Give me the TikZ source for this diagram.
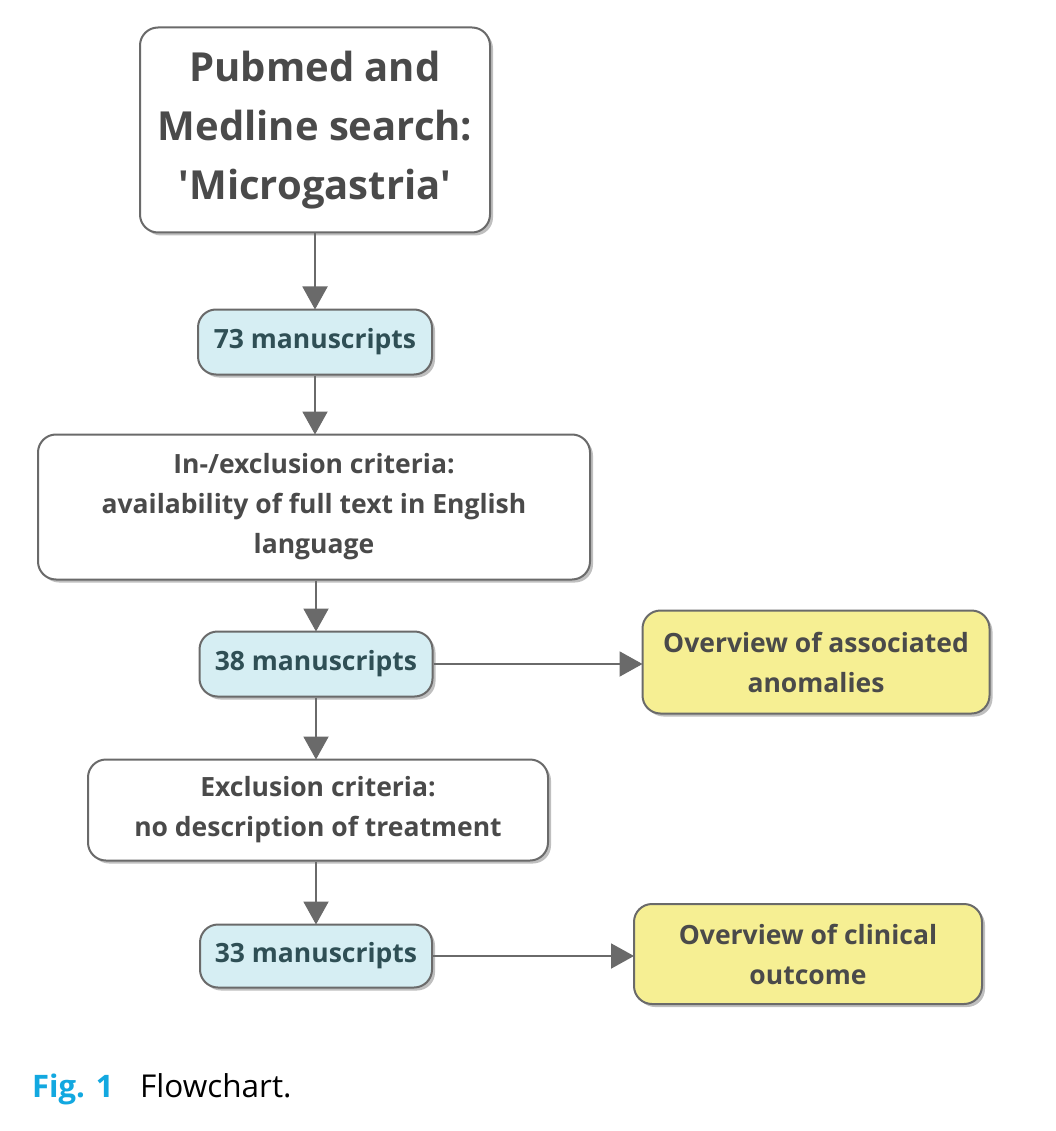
\documentclass[tikz,border=0pt]{standalone}
\usepackage{fontspec}
\setmainfont{Open Sans}
\setsansfont{Open Sans}
\usetikzlibrary{arrows.meta,shadows}
\definecolor{bordergray}{HTML}{6A6A6A}
\definecolor{textgray}{HTML}{4A4A4A}
\definecolor{tealtext}{HTML}{2F4F55}
\definecolor{bluefill}{HTML}{D6EEF3}
\definecolor{yellowfill}{HTML}{F6EF93}
\definecolor{figblue}{HTML}{12A8E0}
\tikzset{
  box/.style={draw=bordergray, line width=2pt, rounded corners=18pt, fill=white,
    align=center, inner sep=0pt, text=textgray, font=\bfseries\fontsize{26.5}{40}\selectfont,
    drop shadow={shadow xshift=3pt, shadow yshift=-3pt, fill=black, opacity=0.25}},
  bluebox/.style={box, fill=bluefill, text=tealtext},
  yellowbox/.style={box, fill=yellowfill, text=textgray},
  conn/.style={draw=bordergray, line width=2pt, -{Triangle[length=23pt,width=25pt]}, shorten >=-1pt}
}
\begin{document}
\begin{tikzpicture}[x=1pt,y=-1pt]
\useasboundingbox[fill=white] (0,0) rectangle (1055,1131);
\node[box, minimum width=350pt, minimum height=205pt, font=\bfseries\fontsize{40}{59}\selectfont] (search) at (315,130) {Pubmed and\\Medline search:\\\textquotesingle Microgastria\textquotesingle};
\node[bluebox, minimum width=234pt, minimum height=65pt] (m73) at (315,342) {73 manuscripts};
\node[box, minimum width=552pt, minimum height=145pt] (incl) at (314,507) {In-/exclusion criteria:\\availability of full text in English\\language};
\node[bluebox, minimum width=233pt, minimum height=65pt] (m38) at (316,664) {38 manuscripts};
\node[yellowbox, minimum width=347pt, minimum height=103pt] (assoc) at (816,662) {Overview of associated\\anomalies};
\node[box, minimum width=460pt, minimum height=101pt] (excl) at (318,810) {Exclusion criteria:\\no description of treatment};
\node[bluebox, minimum width=232pt, minimum height=63pt] (m33) at (316,956) {33 manuscripts};
\node[yellowbox, minimum width=348pt, minimum height=100pt] (clin) at (808,954) {Overview of clinical\\outcome};
\draw[conn] (search.south) -- (m73.north);
\draw[conn] (m73.south) -- (m73.south |- incl.north);
\draw[conn] (incl.south -| m38.north) -- (m38.north);
\draw[conn] (m38.east) -- (assoc.west |- m38.east);
\draw[conn] (m38.south) -- (m38.south |- excl.north);
\draw[conn] (excl.south -| m33.north) -- (m33.north);
\draw[conn] (m33.east) -- (clin.west |- m33.east);
\node[anchor=base west, inner sep=0pt, text=figblue, font=\bfseries\fontsize{31}{36}\selectfont] (fig) at (32,1097) {Fig. 1};
\node[anchor=base west, inner sep=0pt, text=black, font=\fontsize{31.5}{36}\selectfont] (cap) at (140,1097) {Flowchart.};
\end{tikzpicture}
\end{document}
